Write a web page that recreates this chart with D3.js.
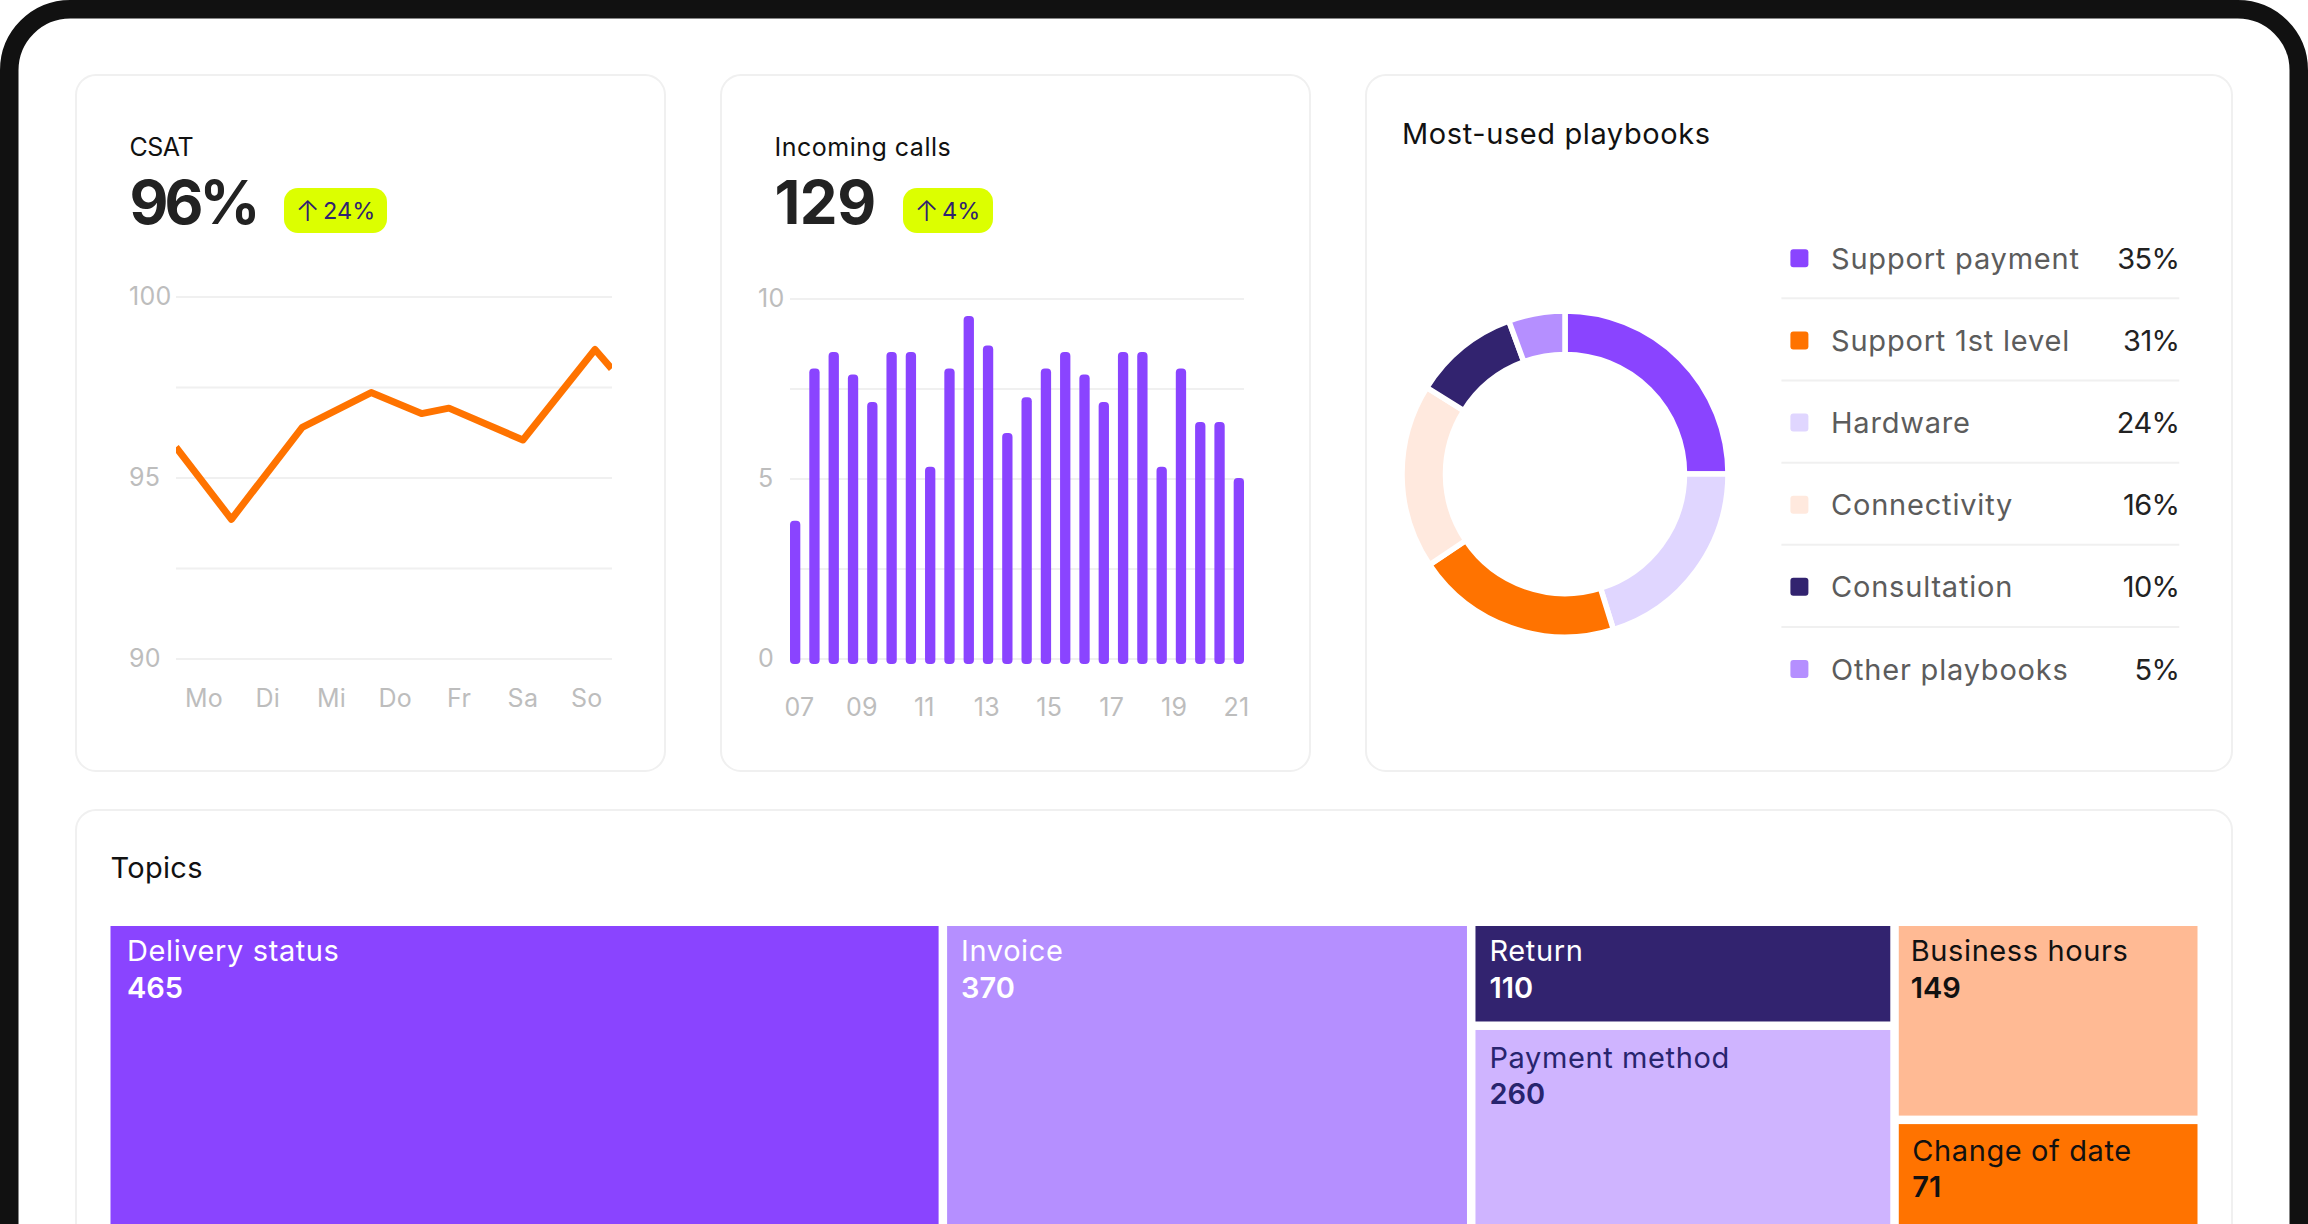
<!DOCTYPE html>
<html>
<head>
<meta charset="utf-8">
<title>Dashboard</title>
<script src="https://cdn.jsdelivr.net/npm/d3@7"></script>
<style>
  html, body { margin: 0; background: #fff; overflow: hidden; }
  svg { display: block; font-family: Inter, "Noto Sans", sans-serif; }
</style>
</head>
<body>
<svg id="chart" width="2308" height="1224"></svg>
<script>
// csat card
const csatDays = ["Mo", "Di", "Mi", "Do", "Fr", "Sa", "So"];
const csatTicks = [90, 92.5, 95, 97.5, 100];
const csatTickLabels = [90, 95, 100];
// position along the week (0 = Mo) and score
const csatWeekPos = [-0.44, 0.43, 1.54, 2.62, 3.41, 3.84, 5.0, 6.13, 6.39];
const csatScores = [95.85, 93.86, 96.4, 97.36, 96.78, 96.93, 96.05, 98.55, 98.02];

// calls card
const callValues = [3.84, 8.07, 8.53, 7.9, 7.14, 8.53, 8.53, 5.34, 8.07, 9.53, 8.71, 6.28,
  7.27, 8.07, 8.53, 7.9, 7.14, 8.53, 8.53, 5.34, 8.07, 6.58, 6.58, 5.03];
const callHourLabels = ["07", "09", "11", "13", "15", "17", "19", "21"];
const callTicks = [0, 2.5, 5, 7.5, 10];
const callTickLabels = [0, 5, 10];

// playbooks card
const playbookNames = ["Support payment", "Support 1st level", "Hardware", "Connectivity", "Consultation", "Other playbooks"];
const playbookPercents = [35, 31, 24, 16, 10, 5];
const playbookColors = ["#8a44ff", "#ff7300", "#e0d6ff", "#ffe9de", "#32236f", "#b58fff"];
// ring goes in its own order with its own shares
const ringOrder = [0, 2, 1, 3, 4, 5];
const ringShares = [25, 20.2, 20.4, 18.3, 10.5, 5.6];

// topics card
const topicNames = ["Delivery status", "Invoice", "Return", "Payment method", "Business hours", "Change of date"];
const topicValues = [465, 370, 110, 260, 149, 71];
// tile sizes in the picture do not follow the counts, so they get their own weights
const topicWeights = [836, 528, 115, 308, 159, 148];
const topicColumns = [[0], [1], [2, 3], [4, 5]];
const topicFills = ["#8a44ff", "#b58fff", "#32236f", "#cfb4ff", "#ffba94", "#ff7300"];
const topicInks = ["#fff", "#fff", "#fff", "#28246e", "#111", "#111"];

const svg = d3.select("#chart");
const gridColor = "#f0f0f0";
const tickColor = "#bdbdbd";

// label insets differ a little per tile in the original
const tileInsetX = [16.5, 14, 14, 14, 12, 13.5];
const tileInsetY = [0, 0, 0, 3, 0, 1.5];

// device frame, runs off the bottom
svg.append("rect")
  .attr("x", 9.25).attr("y", 9.25)
  .attr("width", 2289.5).attr("height", 1400)
  .attr("rx", 61)
  .attr("fill", "#fff").attr("stroke", "#111").attr("stroke-width", 18.5);

function card(x, y, w, h) {
  svg.append("rect")
    .attr("x", x).attr("y", y).attr("width", w).attr("height", h)
    .attr("rx", 20)
    .attr("fill", "#fff").attr("stroke", gridColor).attr("stroke-width", 2);
}

function label(parent, x, y, text, size, color, opts = {}) {
  return parent.append("text")
    .attr("x", x).attr("y", y)
    .attr("font-size", size)
    .attr("font-weight", opts.weight || 400)
    .attr("letter-spacing", opts.spacing || 0)
    .attr("text-anchor", opts.anchor || "start")
    .attr("fill", color)
    .text(text);
}

function badge(x, w, text) {
  svg.append("rect")
    .attr("x", x).attr("y", 188).attr("width", w).attr("height", 45)
    .attr("rx", 14).attr("fill", "#dcff00");
  label(svg, x + 11.5, 220.5, "↑", 29, "#2f2270", { weight: 300 });
  label(svg, x + 39, 219, text, 23.5, "#2f2270");
}

function header(x, title, big, titleSpacing, bigSpacing) {
  label(svg, x, 155.5, title, 25, "#111", { spacing: titleSpacing });
  label(svg, x, 224, big, 60, "#222", { weight: 650, spacing: bigSpacing });
}

// gridlines plus left aligned value labels
function yGrid(yScale, ticks, tickLabels, x0, x1, labelX) {
  const g = svg.append("g");
  g.selectAll("line").data(ticks).join("line")
    .attr("x1", x0).attr("x2", x1)
    .attr("y1", d => yScale(d)).attr("y2", d => yScale(d))
    .attr("stroke", gridColor).attr("stroke-width", 2);
  g.selectAll("text").data(tickLabels).join("text")
    .attr("x", labelX).attr("y", d => yScale(d) + 8)
    .attr("font-size", 25).attr("letter-spacing", 0.3).attr("fill", tickColor)
    .text(d => d);
}

// CSAT
card(76, 75, 589, 696);
header(129.5, "CSAT", "96%", -0.5, -4);
badge(284, 103, "24%");

const csatY = d3.scaleLinear().domain([90, 100]).range([659, 297]);
const csatX = d3.scaleLinear().domain([0, 6]).range([204, 586.7]);
yGrid(csatY, csatTicks, csatTickLabels, 176, 612, 129);

svg.append("defs").append("clipPath").attr("id", "csat-clip")
  .append("rect").attr("x", 176).attr("y", 280).attr("width", 436).attr("height", 400);

const csatLine = d3.line()
  .x((d, i) => csatX(csatWeekPos[i]))
  .y(d => csatY(d));

svg.append("path")
  .attr("d", csatLine(csatScores))
  .attr("clip-path", "url(#csat-clip)")
  .attr("fill", "none")
  .attr("stroke", "#ff7300").attr("stroke-width", 7)
  .attr("stroke-linejoin", "round");

svg.append("g").selectAll("text").data(csatDays).join("text")
  .attr("x", (d, i) => csatX(i)).attr("y", 706.5)
  .attr("text-anchor", "middle")
  .attr("font-size", 25).attr("letter-spacing", 0.3).attr("fill", tickColor)
  .text(d => d);

// Incoming calls
card(721, 75, 589, 696);
header(774.5, "Incoming calls", "129", 0.5, -0.5);
badge(903, 90, "4%");

const callY = d3.scaleLinear().domain([0, 10]).range([659, 299]);
const callX = d3.scaleBand().domain(d3.range(callValues.length)).range([790, 1244]).paddingInner(0.465);
const callHourX = d3.scalePoint().domain(callHourLabels).range([799.5, 1236.5]);
yGrid(callY, callTicks, callTickLabels, 790, 1244, 758);

svg.append("g").selectAll("rect").data(callValues).join("rect")
  .attr("x", (d, i) => callX(i))
  .attr("y", d => callY(d))
  .attr("width", callX.bandwidth())
  .attr("height", d => callY(0) - callY(d) + 5)
  .attr("rx", 4)
  .attr("fill", "#8a44ff");

svg.append("g").selectAll("text").data(callHourLabels).join("text")
  .attr("x", d => callHourX(d)).attr("y", 715.5)
  .attr("text-anchor", "middle")
  .attr("font-size", 25).attr("letter-spacing", 0.3).attr("fill", tickColor)
  .text(d => d);

// Most-used playbooks
card(1366, 75, 866, 696);
label(svg, 1402, 143.5, "Most-used playbooks", 29, "#111", { spacing: 0.6 });

const pie = d3.pie().sort(null);
const arc = d3.arc().innerRadius(119.5).outerRadius(163);

svg.append("g")
  .attr("transform", "translate(1565,474)")
  .selectAll("path").data(pie(ringShares)).join("path")
  .attr("d", arc)
  .attr("fill", (d, i) => playbookColors[ringOrder[i]])
  .attr("stroke", "#fff").attr("stroke-width", 5.5);

const rowY = d3.scalePoint().domain(playbookNames).range([258.3, 669]);
const legend = svg.append("g");

legend.selectAll("rect").data(playbookNames).join("rect")
  .attr("x", 1790.4).attr("y", d => rowY(d) - 9)
  .attr("width", 18).attr("height", 18).attr("rx", 3)
  .attr("fill", (d, i) => playbookColors[i]);

legend.selectAll("text.name").data(playbookNames).join("text")
  .attr("class", "name")
  .attr("x", 1831).attr("y", d => rowY(d) + 10.5)
  .attr("font-size", 29).attr("letter-spacing", 0.8).attr("fill", "#5c5c5c")
  .text(d => d);

legend.selectAll("text.pct").data(playbookNames).join("text")
  .attr("class", "pct")
  .attr("x", 2179.5).attr("y", d => rowY(d) + 10.5)
  .attr("text-anchor", "end")
  .attr("font-size", 29).attr("letter-spacing", -0.6).attr("fill", "#222")
  .text((d, i) => playbookPercents[i] + "%");

legend.selectAll("line").data(playbookNames.slice(1)).join("line")
  .attr("x1", 1781.4).attr("x2", 2179.3)
  .attr("y1", d => rowY(d) - rowY.step() / 2 - 1)
  .attr("y2", d => rowY(d) - rowY.step() / 2 - 1)
  .attr("stroke", gridColor).attr("stroke-width", 2);

// Topics, runs off the bottom
card(76, 810, 2156, 600);
label(svg, 110.5, 878, "Topics", 29, "#111", { spacing: 0.3 });

const topicRoot = d3.hierarchy({
  children: topicColumns.map(col => ({ children: col.map(i => ({ id: i, weight: topicWeights[i] })) }))
}).sum(d => d.weight || 0);

d3.treemap()
  .tile(d3.treemapSliceDice)
  .size([2087, 374])
  .paddingInner(8.5)(topicRoot);

const tiles = svg.append("g")
  .attr("transform", "translate(110.5,926)")
  .selectAll("g").data(topicRoot.leaves()).join("g")
  .attr("transform", d => `translate(${d.x0},${d.y0})`);

tiles.append("rect")
  .attr("width", d => d.x1 - d.x0)
  .attr("height", d => d.y1 - d.y0)
  .attr("fill", d => topicFills[d.data.id]);

tiles.append("text")
  .attr("x", d => tileInsetX[d.data.id]).attr("y", d => 35 + tileInsetY[d.data.id])
  .attr("font-size", 29).attr("letter-spacing", 0.6)
  .attr("fill", d => topicInks[d.data.id])
  .text(d => topicNames[d.data.id]);

tiles.append("text")
  .attr("x", d => tileInsetX[d.data.id]).attr("y", d => 71.5 + tileInsetY[d.data.id])
  .attr("font-size", 29).attr("font-weight", 600)
  .attr("fill", d => topicInks[d.data.id])
  .text(d => topicValues[d.data.id]);
</script>
</body>
</html>
